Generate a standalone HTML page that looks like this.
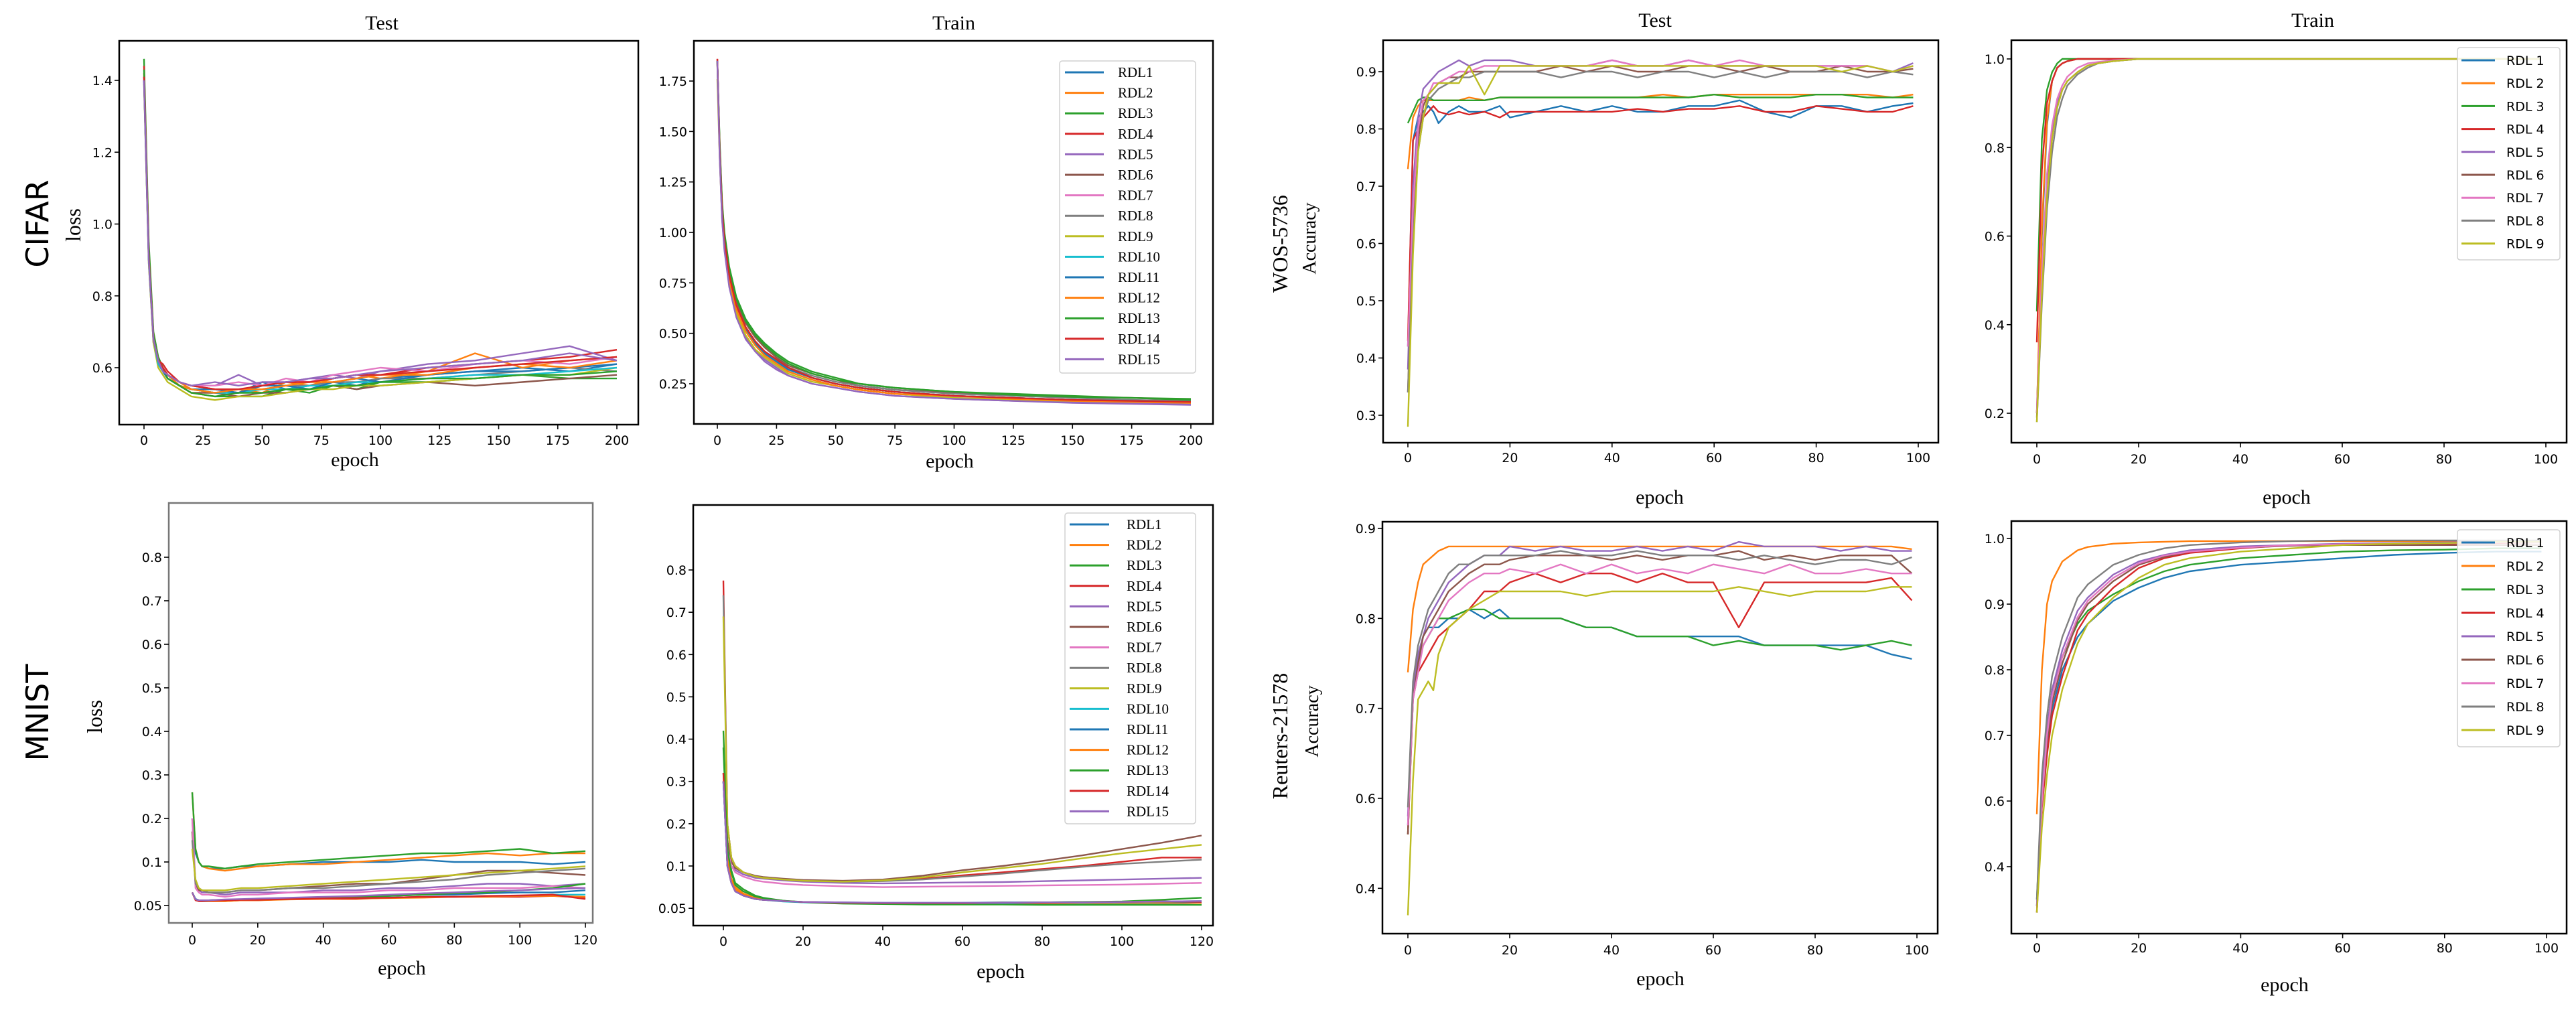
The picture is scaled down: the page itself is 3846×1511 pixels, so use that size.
<!DOCTYPE html>
<html><head><meta charset="utf-8"><style>
html,body{margin:0;padding:0;background:#fff;}
svg{display:block;}
.tk{font-family:"DejaVu Sans","Liberation Sans",sans-serif;font-size:19px;fill:#000;}
.sf{font-family:"Liberation Serif",serif;fill:#000;}
.ss{font-family:"DejaVu Sans","Liberation Sans",sans-serif;fill:#000;}
</style></head><body>
<svg id="fig" width="3846" height="1511" viewBox="0 0 3846 1511" xmlns="http://www.w3.org/2000/svg">
<text class="sf" x="570" y="44" font-size="30" text-anchor="middle">Test</text>
<text class="sf" x="1424" y="44" font-size="30" text-anchor="middle">Train</text>
<text class="sf" x="2471" y="40" font-size="30" text-anchor="middle">Test</text>
<text class="sf" x="3453" y="40" font-size="30" text-anchor="middle">Train</text>
<text class="ss" x="0" y="0" font-size="46" text-anchor="middle" transform="translate(72,334) rotate(-90)">CIFAR</text>
<text class="sf" x="0" y="0" font-size="32" text-anchor="middle" transform="translate(120,336) rotate(-90)">loss</text>
<text class="ss" x="0" y="0" font-size="46" text-anchor="middle" transform="translate(72,1064) rotate(-90)">MNIST</text>
<text class="sf" x="0" y="0" font-size="32" text-anchor="middle" transform="translate(152,1070) rotate(-90)">loss</text>
<text class="sf" x="0" y="0" font-size="32" text-anchor="middle" transform="translate(1922,364) rotate(-90)">WOS-5736</text>
<text class="sf" x="0" y="0" font-size="28" text-anchor="middle" transform="translate(1964,356) rotate(-90)">Accuracy</text>
<text class="sf" x="0" y="0" font-size="32" text-anchor="middle" transform="translate(1922,1099) rotate(-90)">Reuters-21578</text>
<text class="sf" x="0" y="0" font-size="28" text-anchor="middle" transform="translate(1968,1077) rotate(-90)">Accuracy</text>
</svg>
<script>
// ---------- DATA ----------
const C10=['#1f77b4','#ff7f0e','#2ca02c','#d62728','#9467bd','#8c564b','#e377c2','#7f7f7f','#bcbd22','#17becf','#1f77b4','#ff7f0e','#2ca02c','#d62728','#9467bd'];
const rdl15=['RDL1','RDL2','RDL3','RDL4','RDL5','RDL6','RDL7','RDL8','RDL9','RDL10','RDL11','RDL12','RDL13','RDL14','RDL15'];
const rdl9=['RDL 1','RDL 2','RDL 3','RDL 4','RDL 5','RDL 6','RDL 7','RDL 8','RDL 9'];

const cifarTestEpochs=[0,2,4,6,8,10,15,20,30,40,50,60,70,80,90,100,120,140,160,180,200];
const cifarTest1=[1.40,0.90,0.68,0.62,0.60,0.58,0.55,0.54,0.53,0.53,0.56,0.54,0.55,0.56,0.55,0.57,0.58,0.59,0.60,0.59,0.61];
const cifarTest2=[1.42,0.92,0.69,0.63,0.60,0.58,0.56,0.54,0.54,0.54,0.53,0.56,0.55,0.57,0.58,0.57,0.59,0.64,0.60,0.62,0.63];
const cifarTest3=[1.46,0.95,0.70,0.63,0.60,0.58,0.55,0.53,0.52,0.52,0.52,0.54,0.53,0.55,0.54,0.56,0.56,0.57,0.58,0.57,0.57];
const cifarTest4=[1.44,0.93,0.69,0.62,0.61,0.59,0.56,0.55,0.54,0.53,0.55,0.56,0.56,0.57,0.58,0.58,0.60,0.61,0.62,0.63,0.65];
const cifarTest5=[1.41,0.91,0.68,0.62,0.59,0.58,0.56,0.55,0.55,0.58,0.55,0.56,0.57,0.58,0.57,0.59,0.61,0.62,0.64,0.66,0.62];
const cifarTest6=[1.40,0.90,0.67,0.61,0.59,0.57,0.55,0.53,0.53,0.52,0.53,0.53,0.54,0.55,0.54,0.55,0.56,0.55,0.56,0.57,0.58];
const cifarTest7=[1.40,0.91,0.68,0.62,0.60,0.58,0.56,0.55,0.55,0.56,0.55,0.57,0.56,0.58,0.59,0.60,0.59,0.61,0.62,0.61,0.63];
const cifarTest8=[1.39,0.89,0.67,0.61,0.59,0.57,0.55,0.54,0.53,0.54,0.54,0.55,0.55,0.56,0.56,0.57,0.57,0.58,0.59,0.60,0.59];
const cifarTest9=[1.39,0.89,0.67,0.60,0.58,0.56,0.54,0.52,0.51,0.52,0.52,0.53,0.54,0.54,0.55,0.55,0.56,0.57,0.58,0.58,0.60];
const cifarTest10=[1.41,0.90,0.68,0.61,0.59,0.57,0.55,0.54,0.53,0.53,0.54,0.54,0.55,0.55,0.56,0.56,0.57,0.58,0.58,0.59,0.60];
const cifarTest11=[1.40,0.90,0.68,0.62,0.59,0.57,0.55,0.54,0.54,0.53,0.55,0.55,0.54,0.56,0.57,0.56,0.58,0.59,0.59,0.60,0.61];
const cifarTest12=[1.42,0.92,0.69,0.62,0.60,0.58,0.55,0.54,0.53,0.54,0.54,0.55,0.56,0.56,0.57,0.58,0.58,0.60,0.61,0.60,0.62];
const cifarTest13=[1.43,0.93,0.69,0.62,0.60,0.57,0.55,0.53,0.52,0.53,0.53,0.54,0.54,0.55,0.55,0.56,0.57,0.57,0.58,0.58,0.59];
const cifarTest14=[1.41,0.91,0.68,0.62,0.60,0.58,0.56,0.55,0.54,0.54,0.55,0.56,0.56,0.57,0.58,0.58,0.59,0.60,0.61,0.62,0.63];
const cifarTest15=[1.40,0.90,0.68,0.62,0.59,0.58,0.56,0.55,0.56,0.55,0.56,0.56,0.57,0.57,0.58,0.59,0.60,0.61,0.62,0.64,0.62];

const cifarTrainEpochs=[0,1,2,3,5,8,12,16,20,25,30,40,50,60,75,100,125,150,175,200];
const cifarTrain1=[1.85,1.40,1.10,0.95,0.78,0.63,0.52,0.45,0.40,0.36,0.32,0.28,0.25,0.23,0.21,0.19,0.18,0.17,0.165,0.16];
const cifarTrain2=[1.84,1.39,1.09,0.94,0.77,0.62,0.51,0.44,0.39,0.35,0.31,0.27,0.24,0.22,0.20,0.185,0.175,0.165,0.16,0.155];
const cifarTrain3=[1.85,1.45,1.15,1.00,0.83,0.68,0.57,0.50,0.45,0.40,0.36,0.31,0.28,0.25,0.23,0.21,0.20,0.19,0.18,0.175];
const cifarTrain4=[1.86,1.41,1.11,0.96,0.79,0.64,0.53,0.46,0.41,0.37,0.33,0.28,0.25,0.23,0.21,0.19,0.18,0.17,0.165,0.16];
const cifarTrain5=[1.85,1.38,1.07,0.92,0.74,0.59,0.48,0.41,0.37,0.33,0.29,0.25,0.23,0.21,0.19,0.175,0.165,0.16,0.155,0.15];
const cifarTrain6=[1.84,1.43,1.13,0.98,0.81,0.66,0.55,0.48,0.43,0.38,0.34,0.30,0.27,0.24,0.22,0.205,0.195,0.185,0.18,0.17];
const cifarTrain7=[1.85,1.40,1.09,0.94,0.77,0.62,0.51,0.44,0.39,0.35,0.31,0.27,0.24,0.22,0.20,0.185,0.175,0.17,0.16,0.155];
const cifarTrain8=[1.83,1.41,1.11,0.96,0.79,0.64,0.53,0.46,0.41,0.37,0.33,0.29,0.26,0.24,0.22,0.20,0.19,0.18,0.17,0.165];
const cifarTrain9=[1.76,1.37,1.07,0.92,0.75,0.60,0.49,0.42,0.38,0.34,0.30,0.26,0.24,0.22,0.20,0.18,0.17,0.165,0.16,0.155];
const cifarTrain10=[1.85,1.40,1.10,0.95,0.78,0.63,0.52,0.45,0.40,0.36,0.32,0.28,0.25,0.23,0.21,0.19,0.18,0.17,0.165,0.16];
const cifarTrain11=[1.85,1.40,1.10,0.95,0.78,0.63,0.52,0.45,0.40,0.36,0.32,0.28,0.25,0.23,0.21,0.19,0.18,0.17,0.165,0.16];
const cifarTrain12=[1.84,1.39,1.09,0.94,0.77,0.62,0.51,0.44,0.39,0.35,0.31,0.27,0.24,0.22,0.20,0.19,0.175,0.165,0.16,0.155];
const cifarTrain13=[1.85,1.44,1.14,0.99,0.82,0.67,0.56,0.49,0.44,0.39,0.35,0.30,0.27,0.25,0.23,0.21,0.195,0.185,0.18,0.17];
const cifarTrain14=[1.86,1.41,1.11,0.96,0.79,0.64,0.53,0.46,0.41,0.37,0.33,0.28,0.25,0.23,0.21,0.19,0.18,0.17,0.165,0.16];
const cifarTrain15=[1.85,1.37,1.06,0.91,0.73,0.58,0.47,0.41,0.36,0.32,0.29,0.25,0.23,0.21,0.19,0.175,0.165,0.155,0.15,0.145];

const mnistTestEpochs=[0,1,2,3,5,10,15,20,30,40,50,60,70,80,90,100,110,120];
const mnistTest1=[0.2,0.12,0.1,0.09,0.085,0.085,0.09,0.09,0.095,0.1,0.1,0.1,0.105,0.1,0.1,0.1,0.095,0.1];
const mnistTest2=[0.26,0.13,0.1,0.09,0.085,0.08,0.085,0.09,0.095,0.095,0.1,0.105,0.11,0.115,0.12,0.115,0.12,0.12];
const mnistTest3=[0.26,0.13,0.1,0.09,0.09,0.085,0.09,0.095,0.1,0.105,0.11,0.115,0.12,0.12,0.125,0.13,0.12,0.125];
const mnistTest4=[0.03,0.012,0.01,0.01,0.01,0.01,0.012,0.012,0.015,0.015,0.015,0.018,0.02,0.02,0.02,0.02,0.022,0.018];
const mnistTest5=[0.2,0.05,0.035,0.03,0.03,0.025,0.03,0.03,0.03,0.035,0.035,0.04,0.04,0.045,0.05,0.05,0.045,0.05];
const mnistTest6=[0.17,0.05,0.035,0.035,0.03,0.03,0.035,0.035,0.04,0.045,0.05,0.05,0.06,0.07,0.08,0.08,0.075,0.07];
const mnistTest7=[0.2,0.04,0.03,0.025,0.025,0.02,0.025,0.025,0.03,0.03,0.03,0.035,0.035,0.04,0.04,0.04,0.045,0.04];
const mnistTest8=[0.15,0.05,0.04,0.035,0.03,0.03,0.035,0.035,0.04,0.04,0.045,0.05,0.055,0.06,0.07,0.075,0.08,0.085];
const mnistTest9=[0.13,0.06,0.04,0.035,0.035,0.035,0.04,0.04,0.045,0.05,0.055,0.06,0.065,0.07,0.075,0.08,0.085,0.09];
const mnistTest10=[0.03,0.015,0.012,0.01,0.01,0.012,0.013,0.013,0.015,0.015,0.017,0.018,0.02,0.02,0.022,0.022,0.025,0.025];
const mnistTest11=[0.03,0.015,0.012,0.012,0.012,0.013,0.014,0.015,0.017,0.018,0.02,0.022,0.025,0.025,0.028,0.03,0.03,0.035];
const mnistTest12=[0.03,0.013,0.01,0.01,0.01,0.01,0.012,0.012,0.014,0.015,0.016,0.017,0.018,0.02,0.02,0.022,0.022,0.02];
const mnistTest13=[0.03,0.014,0.012,0.012,0.012,0.013,0.014,0.015,0.016,0.018,0.02,0.022,0.025,0.028,0.03,0.035,0.04,0.05];
const mnistTest14=[0.03,0.013,0.01,0.01,0.011,0.012,0.013,0.013,0.015,0.016,0.017,0.018,0.02,0.02,0.022,0.023,0.025,0.015];
const mnistTest15=[0.03,0.014,0.012,0.012,0.012,0.014,0.015,0.016,0.018,0.02,0.022,0.025,0.028,0.03,0.033,0.035,0.038,0.04];

const mnistTrainEpochs=[0,1,2,3,5,8,10,15,20,30,40,50,60,70,80,90,100,110,120];
const mnistTrain1=[0.3,0.1,0.06,0.04,0.03,0.022,0.02,0.017,0.015,0.013,0.012,0.012,0.011,0.011,0.011,0.012,0.012,0.013,0.015];
const mnistTrain2=[0.3,0.12,0.07,0.05,0.035,0.025,0.022,0.017,0.015,0.012,0.011,0.01,0.01,0.01,0.01,0.01,0.01,0.01,0.01];
const mnistTrain3=[0.42,0.15,0.09,0.06,0.045,0.03,0.025,0.018,0.014,0.011,0.01,0.009,0.009,0.009,0.008,0.008,0.008,0.008,0.008];
const mnistTrain4=[0.775,0.2,0.12,0.1,0.085,0.075,0.072,0.068,0.065,0.063,0.065,0.07,0.078,0.085,0.093,0.1,0.11,0.12,0.12];
const mnistTrain5=[0.3,0.14,0.1,0.09,0.08,0.072,0.07,0.066,0.063,0.06,0.059,0.06,0.061,0.062,0.064,0.066,0.068,0.07,0.072];
const mnistTrain6=[0.32,0.16,0.11,0.095,0.085,0.077,0.074,0.07,0.067,0.065,0.068,0.077,0.09,0.1,0.112,0.125,0.14,0.155,0.172];
const mnistTrain7=[0.3,0.14,0.1,0.085,0.075,0.066,0.063,0.058,0.055,0.052,0.05,0.051,0.052,0.053,0.054,0.055,0.056,0.058,0.06];
const mnistTrain8=[0.74,0.2,0.12,0.1,0.085,0.075,0.072,0.068,0.065,0.063,0.064,0.068,0.075,0.082,0.09,0.098,0.105,0.11,0.115];
const mnistTrain9=[0.69,0.2,0.12,0.1,0.085,0.075,0.072,0.068,0.065,0.063,0.066,0.073,0.085,0.095,0.105,0.118,0.13,0.14,0.15];
const mnistTrain10=[0.3,0.1,0.06,0.04,0.03,0.022,0.02,0.016,0.014,0.013,0.012,0.012,0.012,0.012,0.013,0.013,0.014,0.014,0.015];
const mnistTrain11=[0.3,0.1,0.06,0.04,0.03,0.022,0.02,0.017,0.015,0.014,0.013,0.013,0.013,0.014,0.014,0.015,0.015,0.016,0.017];
const mnistTrain12=[0.3,0.11,0.065,0.045,0.032,0.023,0.021,0.017,0.015,0.013,0.012,0.012,0.012,0.013,0.013,0.014,0.015,0.015,0.016];
const mnistTrain13=[0.38,0.14,0.085,0.055,0.04,0.028,0.024,0.018,0.015,0.012,0.011,0.011,0.012,0.013,0.014,0.015,0.016,0.02,0.025];
const mnistTrain14=[0.32,0.1,0.06,0.04,0.03,0.022,0.02,0.017,0.015,0.013,0.012,0.012,0.012,0.013,0.013,0.014,0.015,0.016,0.015];
const mnistTrain15=[0.3,0.1,0.06,0.04,0.03,0.022,0.02,0.017,0.015,0.014,0.013,0.013,0.013,0.013,0.014,0.014,0.015,0.016,0.017];

const textTestEpochs=[0,1,2,3,4,5,6,8,10,12,15,18,20,25,30,35,40,45,50,55,60,65,70,75,80,85,90,95,99];
const wosTest1=[0.42,0.78,0.82,0.83,0.84,0.83,0.81,0.83,0.84,0.83,0.83,0.84,0.82,0.83,0.84,0.83,0.84,0.83,0.83,0.84,0.84,0.85,0.83,0.82,0.84,0.84,0.83,0.84,0.845];
const wosTest2=[0.73,0.82,0.84,0.85,0.85,0.85,0.85,0.85,0.85,0.855,0.85,0.855,0.855,0.855,0.855,0.855,0.855,0.855,0.86,0.855,0.86,0.86,0.86,0.86,0.86,0.86,0.86,0.855,0.86];
const wosTest3=[0.81,0.83,0.85,0.855,0.855,0.85,0.85,0.85,0.85,0.85,0.85,0.855,0.855,0.855,0.855,0.855,0.855,0.855,0.855,0.855,0.86,0.855,0.855,0.855,0.86,0.86,0.855,0.855,0.855];
const wosTest4=[0.43,0.78,0.80,0.82,0.83,0.84,0.83,0.825,0.83,0.825,0.83,0.82,0.83,0.83,0.83,0.83,0.83,0.835,0.83,0.835,0.835,0.84,0.83,0.83,0.84,0.835,0.83,0.83,0.84];
const wosTest5=[0.38,0.70,0.82,0.87,0.88,0.89,0.90,0.91,0.92,0.91,0.92,0.92,0.92,0.91,0.91,0.91,0.92,0.91,0.91,0.92,0.91,0.91,0.91,0.91,0.91,0.91,0.91,0.90,0.915];
const wosTest6=[0.34,0.62,0.78,0.84,0.86,0.87,0.88,0.89,0.89,0.90,0.90,0.90,0.90,0.90,0.91,0.90,0.91,0.90,0.90,0.91,0.91,0.90,0.91,0.90,0.90,0.91,0.90,0.90,0.905];
const wosTest7=[0.42,0.66,0.80,0.85,0.86,0.88,0.88,0.89,0.90,0.90,0.91,0.91,0.91,0.91,0.91,0.91,0.92,0.91,0.91,0.92,0.91,0.92,0.91,0.91,0.91,0.91,0.91,0.90,0.91];
const wosTest8=[0.34,0.60,0.76,0.82,0.85,0.86,0.87,0.88,0.89,0.89,0.90,0.90,0.90,0.90,0.89,0.90,0.90,0.89,0.90,0.90,0.89,0.90,0.89,0.90,0.90,0.90,0.89,0.90,0.895];
const wosTest9=[0.28,0.58,0.76,0.82,0.86,0.87,0.88,0.88,0.88,0.91,0.86,0.91,0.91,0.91,0.91,0.91,0.91,0.91,0.91,0.91,0.91,0.91,0.91,0.91,0.91,0.90,0.91,0.90,0.91];

const wosTrainEpochs=[0,1,2,3,4,5,6,8,10,12,15,20,30,50,99];
const wosTrain1=[0.2,0.6,0.85,0.95,0.98,0.99,0.995,1,1,1,1,1,1,1,1];
const wosTrain2=[0.2,0.62,0.86,0.95,0.98,0.99,0.995,1,1,1,1,1,1,1,1];
const wosTrain3=[0.43,0.82,0.93,0.97,0.99,1,1,1,1,1,1,1,1,1,1];
const wosTrain4=[0.36,0.75,0.9,0.95,0.98,0.99,0.995,1,1,1,1,1,1,1,1];
const wosTrain5=[0.2,0.5,0.72,0.84,0.9,0.93,0.95,0.97,0.985,0.99,0.995,1,1,1,1];
const wosTrain6=[0.19,0.48,0.7,0.82,0.89,0.93,0.95,0.97,0.985,0.99,0.995,1,1,1,1];
const wosTrain7=[0.2,0.52,0.74,0.85,0.91,0.94,0.96,0.98,0.99,0.993,0.997,1,1,1,1];
const wosTrain8=[0.18,0.45,0.66,0.79,0.87,0.91,0.94,0.965,0.98,0.99,0.995,1,1,1,1];
const wosTrain9=[0.18,0.47,0.69,0.82,0.89,0.93,0.95,0.97,0.985,0.99,0.995,1,1,1,1];

const reutTest1=[0.57,0.72,0.76,0.78,0.79,0.79,0.79,0.80,0.80,0.81,0.80,0.81,0.80,0.80,0.80,0.79,0.79,0.78,0.78,0.78,0.78,0.78,0.77,0.77,0.77,0.77,0.77,0.76,0.755];
const reutTest2=[0.74,0.81,0.84,0.86,0.865,0.87,0.875,0.88,0.88,0.88,0.88,0.88,0.88,0.88,0.88,0.88,0.88,0.88,0.88,0.88,0.88,0.88,0.88,0.88,0.88,0.88,0.88,0.88,0.877];
const reutTest3=[0.56,0.72,0.75,0.77,0.78,0.79,0.8,0.8,0.805,0.81,0.81,0.80,0.80,0.80,0.80,0.79,0.79,0.78,0.78,0.78,0.77,0.775,0.77,0.77,0.77,0.765,0.77,0.775,0.77];
const reutTest4=[0.56,0.71,0.74,0.75,0.76,0.77,0.78,0.79,0.80,0.81,0.83,0.83,0.84,0.85,0.84,0.85,0.85,0.84,0.85,0.84,0.84,0.79,0.84,0.84,0.84,0.84,0.84,0.845,0.82];
const reutTest5=[0.58,0.72,0.76,0.78,0.80,0.81,0.82,0.84,0.85,0.86,0.87,0.87,0.88,0.875,0.88,0.875,0.875,0.88,0.875,0.88,0.875,0.885,0.88,0.88,0.88,0.875,0.88,0.875,0.875];
const reutTest6=[0.56,0.71,0.75,0.78,0.79,0.80,0.81,0.83,0.84,0.85,0.86,0.86,0.865,0.87,0.87,0.87,0.865,0.87,0.865,0.87,0.87,0.875,0.865,0.87,0.865,0.87,0.87,0.87,0.85];
const reutTest7=[0.57,0.71,0.74,0.77,0.78,0.79,0.80,0.82,0.83,0.84,0.85,0.85,0.855,0.85,0.86,0.85,0.86,0.85,0.855,0.85,0.86,0.855,0.85,0.86,0.85,0.85,0.855,0.85,0.85];
const reutTest8=[0.59,0.73,0.77,0.79,0.81,0.82,0.83,0.85,0.86,0.86,0.87,0.87,0.87,0.87,0.875,0.87,0.87,0.875,0.87,0.87,0.87,0.865,0.87,0.865,0.86,0.865,0.865,0.86,0.868];
const reutTest9=[0.47,0.62,0.71,0.72,0.73,0.72,0.76,0.79,0.80,0.81,0.82,0.83,0.83,0.83,0.83,0.825,0.83,0.83,0.83,0.83,0.83,0.835,0.83,0.825,0.83,0.83,0.83,0.835,0.835];

const reutTrainEpochs=[0,1,2,3,5,8,10,15,20,25,30,40,50,60,70,80,90,99];
const reutTrain1=[0.44,0.6,0.68,0.74,0.8,0.85,0.87,0.905,0.925,0.94,0.95,0.96,0.965,0.97,0.975,0.978,0.98,0.98];
const reutTrain2=[0.58,0.8,0.9,0.935,0.965,0.982,0.987,0.992,0.994,0.995,0.996,0.996,0.996,0.996,0.996,0.996,0.996,0.996];
const reutTrain3=[0.45,0.62,0.71,0.77,0.82,0.87,0.89,0.915,0.935,0.95,0.96,0.97,0.975,0.98,0.982,0.983,0.985,0.985];
const reutTrain4=[0.43,0.59,0.67,0.73,0.79,0.86,0.885,0.925,0.955,0.97,0.978,0.985,0.99,0.99,0.99,0.992,0.993,0.994];
const reutTrain5=[0.44,0.62,0.71,0.77,0.83,0.89,0.91,0.945,0.965,0.975,0.982,0.988,0.99,0.992,0.993,0.994,0.995,0.995];
const reutTrain6=[0.43,0.6,0.69,0.75,0.81,0.875,0.9,0.935,0.96,0.972,0.98,0.986,0.989,0.99,0.99,0.99,0.99,0.99];
const reutTrain7=[0.43,0.6,0.7,0.76,0.82,0.88,0.905,0.94,0.962,0.974,0.98,0.986,0.99,0.991,0.992,0.993,0.994,0.994];
const reutTrain8=[0.45,0.64,0.73,0.79,0.85,0.91,0.93,0.96,0.975,0.985,0.99,0.994,0.996,0.997,0.997,0.997,0.997,0.997];
const reutTrain9=[0.43,0.56,0.64,0.7,0.77,0.84,0.87,0.91,0.94,0.96,0.97,0.98,0.985,0.99,0.992,0.993,0.995,0.995];

const xTicks200=[0,25,50,75,100,125,150,175,200];
const xTicks120=[0,20,40,60,80,100,120];
const xTicks100=[0,20,40,60,80,100];
const yTicksCifarTest=[0.6,0.8,1.0,1.2,1.4];
const yLabelsCifarTest=['0.6','0.8','1.0','1.2','1.4'];
const yTicksCifarTrain=[0.25,0.5,0.75,1.0,1.25,1.5,1.75];
const yLabelsCifarTrain=['0.25','0.50','0.75','1.00','1.25','1.50','1.75'];
const yTicksMnist=[0,0.1,0.2,0.3,0.4,0.5,0.6,0.7,0.8];
const yLabelsMnist=['0.05','0.1','0.2','0.3','0.4','0.5','0.6','0.7','0.8'];
const yTicksWosTest=[0.3,0.4,0.5,0.6,0.7,0.8,0.9];
const yLabelsWosTest=['0.3','0.4','0.5','0.6','0.7','0.8','0.9'];
const yTicksWosTrain=[0.2,0.4,0.6,0.8,1.0];
const yLabelsWosTrain=['0.2','0.4','0.6','0.8','1.0'];
const yTicksReutTest=[0.5,0.6,0.7,0.8,0.9];
const yLabelsReutTest=['0.4','0.6','0.7','0.8','0.9'];
const yTicksReutTrain=[0.5,0.6,0.7,0.8,0.9,1.0];
const yLabelsReutTrain=['0.4','0.6','0.7','0.8','0.9','1.0'];

// ---------- DRAW ----------
const NS='http://www.w3.org/2000/svg';
const svg=document.getElementById('fig');
function mk(tag,attrs,parent){const e=document.createElementNS(NS,tag);for(const k in attrs)e.setAttribute(k,attrs[k]);(parent||svg).appendChild(e);return e;}
function lin(a,b){return v=>a[1]+(v-a[0])*(b[1]-a[1])/(b[0]-a[0]);}

function panel(p){
  const g=mk('g',{});
  
  
  const xs=lin(p.xa,p.xb), ys=lin(p.ya,p.yb);
  const f=p.frame;
  const clipId=p.name+'-clip';
  const cp=mk('clipPath',{id:clipId},g);
  mk('rect',{x:f[0],y:f[1],width:f[2]-f[0],height:f[3]-f[1]},cp);
  const lines=mk('g',{'clip-path':'url(#'+clipId+')'},g);
  p.series.forEach((s,i)=>{
    const d=s.map((v,j)=>(j?'L':'M')+xs(p.epochs[j]).toFixed(1)+','+ys(v).toFixed(1)).join('');
    const path=mk('path',{d:d,fill:'none',stroke:p.colors[i],'stroke-width':2.4,'stroke-linejoin':'round'},lines);
    
    
  });
  const fr=mk('rect',{x:f[0],y:f[1],width:f[2]-f[0],height:f[3]-f[1],fill:'none',stroke:p.frameColor||'#000','stroke-width':2.5},g);
  
  
  p.xticks.forEach(t=>{
    const x=xs(t);
    mk('line',{x1:x,y1:f[3],x2:x,y2:f[3]+7,stroke:'#000','stroke-width':1.6},g);
    const tx=mk('text',{x:x,y:p.xlabY,'text-anchor':'middle',class:'tk'},g);
    tx.textContent=String(t);
    
    
  });
  p.yticks.forEach((t,i)=>{
    const y=ys(t);
    mk('line',{x1:f[0]-7,y1:y,x2:f[0],y2:y,stroke:'#000','stroke-width':1.6},g);
    const tx=mk('text',{x:f[0]-10,y:y+7,'text-anchor':'end',class:'tk'},g);
    tx.textContent=p.ylabels[i];
    
    
  });
  const xl=mk('text',{x:p.epochPos[0],y:p.epochPos[1],'text-anchor':'middle',class:'sf','font-size':30},g);
  xl.textContent='epoch';
  
  
  if(p.legend){
    const L=p.legend;
    const lg=mk('g',{},g);
    
    
    mk('rect',{x:L.box[0],y:L.box[1],width:L.box[2]-L.box[0],height:L.box[3]-L.box[1],rx:4,fill:'#fff','fill-opacity':0.85,stroke:'#d0d0d0','stroke-width':1.5},lg);
    L.labels.forEach((lab,i)=>{
      const y=L.y0+i*L.dy;
      mk('line',{x1:L.lx[0],y1:y,x2:L.lx[1],y2:y,stroke:p.colors[i],'stroke-width':3},lg);
      const t=mk('text',{x:L.tx,y:y+7,class:L.cls,'font-size':L.fs},lg);
      t.textContent=lab;
      
      
    });
  }
}

panel({name:'cifar-test',frame:[178,61,953,634],xa:[0,215],xb:[200,921],ya:[1.4,120],yb:[0.6,549],
  epochs:cifarTestEpochs,series:[cifarTest1,cifarTest2,cifarTest3,cifarTest4,cifarTest5,cifarTest6,cifarTest7,cifarTest8,cifarTest9,cifarTest10,cifarTest11,cifarTest12,cifarTest13,cifarTest14,cifarTest15],
  colors:C10,xticks:xTicks200,yticks:yTicksCifarTest,ylabels:yLabelsCifarTest,xlabY:664,epochPos:[530,696]});
panel({name:'cifar-train',frame:[1036,61,1811,633],xa:[0,1071],xb:[200,1778],ya:[1.75,121],yb:[0.25,573],
  epochs:cifarTrainEpochs,series:[cifarTrain1,cifarTrain2,cifarTrain3,cifarTrain4,cifarTrain5,cifarTrain6,cifarTrain7,cifarTrain8,cifarTrain9,cifarTrain10,cifarTrain11,cifarTrain12,cifarTrain13,cifarTrain14,cifarTrain15],
  colors:C10,xticks:xTicks200,yticks:yTicksCifarTrain,ylabels:yLabelsCifarTrain,xlabY:664,epochPos:[1418,698],
  legend:{box:[1582,91,1785,557],labels:rdl15,y0:108,dy:30.6,lx:[1590,1648],tx:1669,fs:21,cls:'sf'}});
panel({name:'mnist-test',frame:[252,751,885,1378],xa:[0,287],xb:[120,874],ya:[0.8,832],yb:[0.1,1287],frameColor:'#777',
  epochs:mnistTestEpochs,series:[mnistTest1,mnistTest2,mnistTest3,mnistTest4,mnistTest5,mnistTest6,mnistTest7,mnistTest8,mnistTest9,mnistTest10,mnistTest11,mnistTest12,mnistTest13,mnistTest14,mnistTest15],
  colors:C10,xticks:xTicks120,yticks:yTicksMnist,ylabels:yLabelsMnist,xlabY:1410,epochPos:[600,1455]});
panel({name:'mnist-train',frame:[1035,754,1811,1382],xa:[0,1080],xb:[120,1794],ya:[0.8,851],yb:[0.1,1293],
  epochs:mnistTrainEpochs,series:[mnistTrain1,mnistTrain2,mnistTrain3,mnistTrain4,mnistTrain5,mnistTrain6,mnistTrain7,mnistTrain8,mnistTrain9,mnistTrain10,mnistTrain11,mnistTrain12,mnistTrain13,mnistTrain14,mnistTrain15],
  colors:C10,xticks:xTicks120,yticks:yTicksMnist,ylabels:yLabelsMnist,xlabY:1412,epochPos:[1494,1460],
  legend:{box:[1590,766,1785,1230],labels:rdl15,y0:783,dy:30.6,lx:[1597,1656],tx:1682,fs:21,cls:'sf'}});
panel({name:'wos-test',frame:[2065,60,2894,661],xa:[0,2102],xb:[100,2864],ya:[0.9,107],yb:[0.3,620],
  epochs:textTestEpochs,series:[wosTest1,wosTest2,wosTest3,wosTest4,wosTest5,wosTest6,wosTest7,wosTest8,wosTest9],
  colors:C10,xticks:xTicks100,yticks:yTicksWosTest,ylabels:yLabelsWosTest,xlabY:690,epochPos:[2478,752]});
panel({name:'wos-train',frame:[3003,60,3832,661],xa:[0,3041],xb:[100,3801],ya:[1.0,88],yb:[0.2,617],
  epochs:wosTrainEpochs,series:[wosTrain1,wosTrain2,wosTrain3,wosTrain4,wosTrain5,wosTrain6,wosTrain7,wosTrain8,wosTrain9],
  colors:C10,xticks:xTicks100,yticks:yTicksWosTrain,ylabels:yLabelsWosTrain,xlabY:692,epochPos:[3414,752],
  legend:{box:[3669,71,3822,388],labels:rdl9,y0:90,dy:34.2,lx:[3675,3725],tx:3742,fs:19,cls:'ss'}});
panel({name:'reuters-test',frame:[2064,779,2893,1394],xa:[0,2102],xb:[100,2862],ya:[0.9,789],yb:[0.6,1192],
  epochs:textTestEpochs,series:[reutTest1,reutTest2,reutTest3,reutTest4,reutTest5,reutTest6,reutTest7,reutTest8,reutTest9],
  colors:C10,xticks:xTicks100,yticks:yTicksReutTest,ylabels:yLabelsReutTest,xlabY:1425,epochPos:[2479,1471]});
panel({name:'reuters-train',frame:[3003,778,3832,1394],xa:[0,3041],xb:[100,3802],ya:[1.0,804],yb:[0.6,1196],
  epochs:reutTrainEpochs,series:[reutTrain1,reutTrain2,reutTrain3,reutTrain4,reutTrain5,reutTrain6,reutTrain7,reutTrain8,reutTrain9],
  colors:C10,xticks:xTicks100,yticks:yTicksReutTrain,ylabels:yLabelsReutTrain,xlabY:1422,epochPos:[3411,1480],
  legend:{box:[3669,791,3822,1115],labels:rdl9,y0:810,dy:35,lx:[3675,3725],tx:3742,fs:19,cls:'ss'}});
</script>
</body></html>
